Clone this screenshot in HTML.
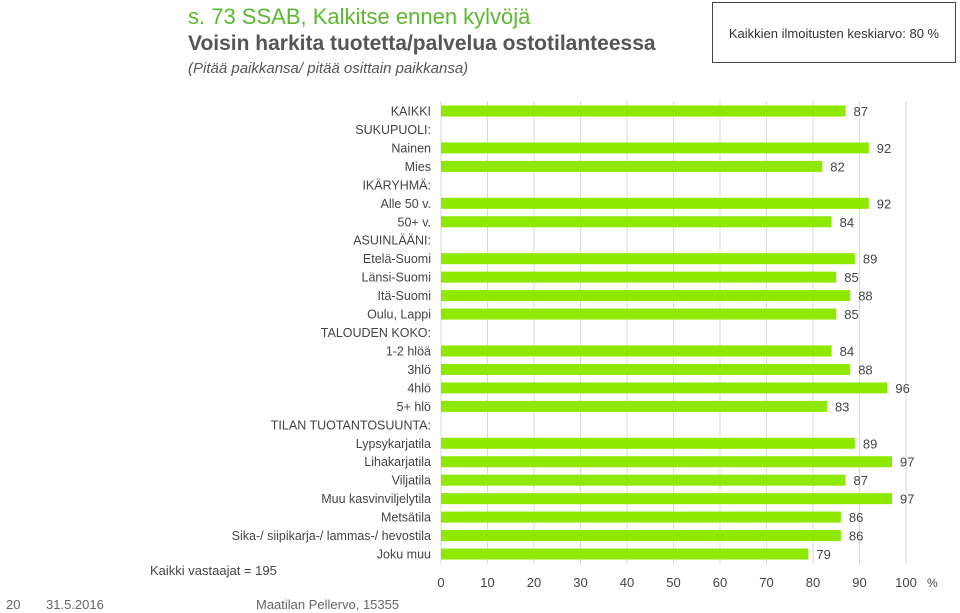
<!DOCTYPE html>
<html><head><meta charset="utf-8"><style>
body{margin:0;width:960px;height:613px;background:#fff;font-family:"Liberation Sans",sans-serif;position:relative;overflow:hidden}
.t{position:absolute;white-space:nowrap}
</style></head><body>
<div class="t" style="left:188px;top:4px;font-size:22px;color:#5cb82e">s. 73 SSAB, Kalkitse ennen kylvöjä</div>
<div class="t" style="left:188px;top:32px;font-size:21px;font-weight:bold;color:#555">Voisin harkita tuotetta/palvelua ostotilanteessa</div>
<div class="t" style="left:188px;top:60px;font-size:15px;font-style:italic;color:#555">(Pitää paikkansa/ pitää osittain paikkansa)</div>
<div class="t" style="left:712px;top:2px;width:244px;height:61px;border:1px solid #444;box-sizing:border-box;font-size:13px;color:#333;line-height:61px;text-align:center">Kaikkien ilmoitusten keskiarvo: 80 %</div>
<svg id="c" width="960" height="613" style="position:absolute;left:0;top:0"></svg>
<div class="t" style="left:150px;top:563px;font-size:13px;color:#444">Kaikki vastaajat = 195</div>
<div class="t" style="left:6px;top:597px;font-size:13px;color:#666">20</div>
<div class="t" style="left:46px;top:597px;font-size:13px;color:#666">31.5.2016</div>
<div class="t" style="left:256px;top:597px;font-size:13px;color:#666">Maatilan Pellervo, 15355</div>
<script>
const categories=["KAIKKI","SUKUPUOLI:","Nainen","Mies","IKÄRYHMÄ:","Alle 50 v.","50+ v.","ASUINLÄÄNI:","Etelä-Suomi","Länsi-Suomi","Itä-Suomi","Oulu, Lappi","TALOUDEN KOKO:","1-2 hlöä","3hlö","4hlö","5+ hlö","TILAN TUOTANTOSUUNTA:","Lypsykarjatila","Lihakarjatila","Viljatila","Muu kasvinviljelytila","Metsätila","Sika-/ siipikarja-/ lammas-/ hevostila","Joku muu"];
const values=[87,null,92,82,null,92,84,null,89,85,88,85,null,84,88,96,83,null,89,97,87,97,86,86,79];
const ticks=[0,10,20,30,40,50,60,70,80,90,100];
const svg=document.getElementById('c');const NS='http://www.w3.org/2000/svg';
const x=v=>441+v*4.65, y=i=>111+i*18.46;
function mk(t,a){const e=document.createElementNS(NS,t);for(const k in a)e.setAttribute(k,a[k]);svg.appendChild(e);return e;}
ticks.forEach(t=>{const g=mk('line',{x1:x(t),x2:x(t),y1:101,y2:564,stroke:'#d9d9d9','stroke-width':1});

const l=mk('text',{x:x(t),y:587,'text-anchor':'middle','font-size':13,fill:'#444','font-family':'Liberation Sans'});l.textContent=t;
});
const pc=mk('text',{x:927,y:587,'font-size':12,fill:'#444','font-family':'Liberation Sans'});pc.textContent='%';

categories.forEach((c,i)=>{const l=mk('text',{x:431,y:y(i)+4.5,'text-anchor':'end','font-size':12.5,fill:'#444','font-family':'Liberation Sans'});l.textContent=c;

const v=values[i];if(v==null)return;
const b=mk('rect',{x:x(0),y:y(i)-5.5,width:x(v)-x(0),height:11,fill:'#8ee800'});

const t=mk('text',{x:x(v)+8,y:y(i)+5,'font-size':13,fill:'#444','font-family':'Liberation Sans'});t.textContent=v;
});
</script>
</body></html>
